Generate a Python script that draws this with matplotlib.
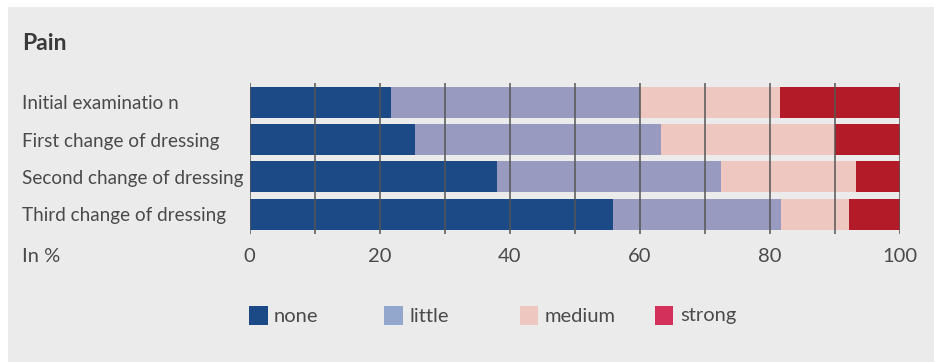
import numpy as np
import matplotlib
matplotlib.use("Agg")
from matplotlib import pyplot as plt
from matplotlib.patches import Rectangle

# data (percent per row, stacked)
stages = ["Initial examinatio n", "First change of dressing",
          "Second change of dressing", "Third change of dressing"]
levels = ["none", "little", "medium", "strong"]
none_pct = [21.8, 25.4, 38.1, 55.9]
little_pct = [38.2, 37.9, 34.4, 25.8]
medium_pct = [21.6, 26.7, 20.8, 10.4]
strong_pct = [18.4, 10.0, 6.7, 7.9]
xticks = [0, 20, 40, 60, 80, 100]

bar_colors = ["#1C4A86", "#989BBF", "#EDC7C0", "#B41B28"]
legend_colors = ["#1B4A86", "#93A7CD", "#EEC7C1", "#D3315C"]
text_col = "#4a4a4a"
bg = "#EBEBEB"

plt.rcParams["font.family"] = ["Lato", "DejaVu Sans"]

W, H = 934, 362
fig = plt.figure(figsize=(W / 100, H / 100), dpi=100, facecolor="white")
fig.patches.append(Rectangle((8 / W, 0), 1 - 8 / W, 1 - 7 / H,
                             transform=fig.transFigure, facecolor=bg,
                             edgecolor="none", zorder=-5))

ax = fig.add_axes([249.5 / W, 1 - 234 / H, 650.5 / W, 151 / H])
ax.set_facecolor("none")

y = np.arange(len(stages))
series = [none_pct, little_pct, medium_pct, strong_pct]
left = np.zeros(len(stages))
for vals, col, lab in zip(series, bar_colors, levels):
    ax.barh(y, vals, left=left, height=0.83, color=col, label=lab, zorder=1)
    left += np.array(vals)

ax.set_xlim(0, 100)
ax.set_ylim(3.53, -0.52)
ax.set_xticks(xticks)
ax.set_xticks(np.arange(0, 101, 10), minor=True)
ax.xaxis.grid(True, which="both", color="#555555", linewidth=1.1, zorder=3)
ax.set_axisbelow(False)
for s in ax.spines.values():
    s.set_visible(False)

ax.tick_params(axis="x", which="both", length=0, pad=10, labelsize=14.5,
               labelcolor=text_col)
ax.set_yticks(y)
ax.set_yticklabels(stages)
ax.tick_params(axis="y", length=0, pad=227.5 * 0.72, labelsize=13.6,
               labelcolor=text_col)
for t in ax.get_yticklabels():
    t.set_horizontalalignment("left")

fig.text(22 / W, 1 - 43 / H, "Pain", fontsize=16.5, fontweight="bold",
         color="#3a3a3a", va="center", ha="left")
fig.text(22 / W, 1 - 256 / H, "In %", fontsize=14.5, color=text_col,
         va="center", ha="left")

# legend drawn by hand to match spacing
x0, step = 249, 135.3
for i, (lab, col) in enumerate(zip(levels, legend_colors)):
    xs = x0 + i * step
    fig.patches.append(Rectangle((xs / W, 1 - 325 / H), 18.5 / W, 19 / H,
                                 transform=fig.transFigure, facecolor=col,
                                 edgecolor="none", zorder=2))
    fig.text((xs + 25) / W, 1 - 316 / H, lab, fontsize=14.5, color=text_col,
             va="center", ha="left")

fig.savefig("out.png", dpi=100, facecolor=fig.get_facecolor())
